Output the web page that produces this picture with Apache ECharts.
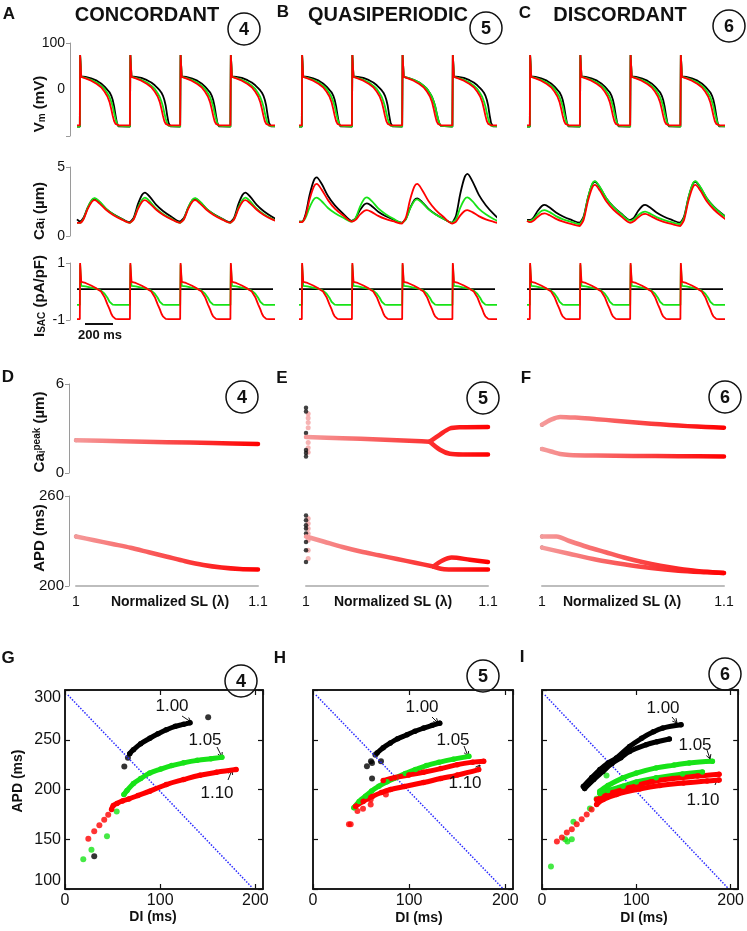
<!DOCTYPE html>
<html>
<head>
<meta charset="utf-8">
<script src="https://cdn.jsdelivr.net/npm/echarts@6/dist/echarts.min.js"></script>
<style>
html, body { margin: 0; padding: 0; background: #fff; }
#chart { width: 747px; height: 931px; }
</style>
</head>
<body>
<div id="chart"></div>
<script>
// ---- time traces (A-C): beat onsets and per-beat time grids, ms ----
const beatStarts = [0, 355, 710, 1065];
const vmT = [0, 2, 10, 40, 80, 120, 150, 175, 195, 210, 222, 232, 242, 252, 262, 272, 285, 354];
const vmRed       = [-77, 74, 27, 24, 19, 12, 5, -5, -15, -27, -42, -56, -68, -74, -76, -77, -77, -77];
const vmGreen     = [-80, 74, 27, 25, 21, 15, 8, 1, -8, -16, -26, -36, -50, -63, -73, -78, -80, -80];
const vmBlack     = [-80, 74, 28, 27, 24, 19, 13, 6, -1, -6, -13, -22, -36, -55, -72, -79, -80, -80];
const vmBlackLong = [-80, 74, 28, 27, 25, 20, 15, 9, 3, -2, -7, -13, -22, -35, -55, -72, -79, -80];

const isacRed   = [-0.97, 1.0, 0.34, 0.3, 0.21, 0.1, 0.0, -0.2, -0.45, -0.62, -0.78, -0.87, -0.93, -0.96, -0.97, -0.97, -0.97, -0.97];
const isacGreen = [-0.47, 0.95, 0.2, 0.18, 0.14, 0.09, 0.03, -0.08, -0.22, -0.36, -0.43, -0.46, -0.47, -0.47, -0.47, -0.47, -0.47, -0.47];
const isacBlack = 0.08;

const caT = [0, 25, 55, 85, 105, 140, 185, 235, 290, 354];
const caA_black = [
    [1.05, 1.3, 2.04, 2.58, 2.7, 2.45, 1.97, 1.6, 1.29, 1.0],
    [1.0, 1.32, 2.29, 2.99, 3.15, 2.83, 2.25, 1.79, 1.41, 1.05],
    [1.05, 1.3, 2.04, 2.58, 2.7, 2.45, 1.97, 1.6, 1.29, 1.0],
    [1.0, 1.32, 2.29, 2.99, 3.15, 2.83, 2.25, 1.79, 1.41, 1.05]]
const caA_green = [
    [0.95, 1.22, 2.03, 2.62, 2.75, 2.48, 1.98, 1.58, 1.26, 0.95],
    [0.95, 1.22, 2.03, 2.62, 2.78, 2.5, 1.98, 1.58, 1.26, 0.95],
    [0.95, 1.22, 2.03, 2.62, 2.75, 2.48, 1.98, 1.58, 1.26, 0.95],
    [0.95, 1.22, 2.03, 2.62, 2.78, 2.5, 1.98, 1.58, 1.26, 0.95]]
const caA_red = [
    [0.95, 1.2, 1.94, 2.48, 2.6, 2.35, 1.9, 1.52, 1.22, 0.95],
    [0.95, 1.2, 1.94, 2.48, 2.6, 2.35, 1.9, 1.52, 1.22, 0.95],
    [0.95, 1.2, 1.94, 2.48, 2.6, 2.35, 1.9, 1.52, 1.22, 0.95],
    [0.95, 1.2, 1.94, 2.48, 2.6, 2.35, 1.9, 1.52, 1.22, 0.95]]
const caB_black = [
    [1.04, 1.52, 2.97, 4.03, 4.25, 3.78, 2.9, 2.2, 1.64, 1.1],
    [1.1, 1.29, 1.86, 2.28, 2.37, 2.16, 1.76, 1.45, 1.2, 0.96],
    [0.96, 1.23, 2.02, 2.61, 2.73, 2.46, 1.97, 1.58, 1.26, 0.96],
    [0.96, 1.49, 3.08, 4.25, 4.5, 3.98, 3.0, 2.23, 1.6, 1.0]]
const caB_green = [
    [1.04, 1.3, 2.08, 2.66, 2.78, 2.52, 2.03, 1.65, 1.34, 1.04],
    [1.04, 1.3, 2.1, 2.68, 2.8, 2.52, 2.0, 1.6, 1.26, 0.95],
    [0.95, 1.21, 1.98, 2.54, 2.66, 2.41, 1.93, 1.56, 1.25, 0.96],
    [0.96, 1.24, 2.06, 2.67, 2.8, 2.52, 1.99, 1.57, 1.23, 0.91]]
const caB_red = [
    [1.0, 1.42, 2.66, 3.58, 3.77, 3.36, 2.6, 1.96, 1.5, 1.04],
    [1.04, 1.17, 1.54, 1.82, 1.88, 1.73, 1.46, 1.24, 1.07, 0.9],
    [0.9, 1.33, 2.62, 3.57, 3.77, 3.34, 2.54, 1.9, 1.39, 0.9],
    [0.9, 1.05, 1.49, 1.81, 1.88, 1.73, 1.44, 1.21, 1.03, 0.85]]
const caC_black = [
    [1.16, 1.32, 1.81, 2.17, 2.25, 2.06, 1.7, 1.41, 1.18, 0.96],
    [0.96, 1.41, 2.74, 3.72, 3.93, 3.51, 2.74, 2.13, 1.63, 1.16],
    [1.16, 1.32, 1.81, 2.17, 2.25, 2.06, 1.7, 1.41, 1.18, 0.96],
    [0.96, 1.41, 2.74, 3.72, 3.93, 3.51, 2.74, 2.13, 1.63, 1.16]]
const caC_green = [
    [1.1, 1.22, 1.57, 1.83, 1.88, 1.73, 1.44, 1.21, 1.03, 0.85],
    [0.85, 1.32, 2.73, 3.76, 3.98, 3.55, 2.74, 2.11, 1.59, 1.1],
    [1.1, 1.2, 1.5, 1.71, 1.76, 1.62, 1.37, 1.17, 1.0, 0.85],
    [0.85, 1.32, 2.73, 3.76, 3.98, 3.55, 2.74, 2.11, 1.59, 1.1]]
const caC_red = [
    [1.0, 1.1, 1.38, 1.6, 1.64, 1.5, 1.24, 1.04, 0.88, 0.72],
    [0.72, 1.17, 2.51, 3.49, 3.7, 3.29, 2.52, 1.92, 1.43, 0.96],
    [0.96, 1.06, 1.34, 1.56, 1.6, 1.47, 1.22, 1.03, 0.87, 0.72],
    [0.72, 1.17, 2.51, 3.49, 3.7, 3.29, 2.52, 1.92, 1.43, 0.96]]

// ---- bifurcation (D-F): [lambda, value] ----
const capD = [[1, 2.2], [1.025, 2.14], [1.05, 2.08], [1.075, 2.02], [1.1, 1.96]]
const apdD = [[1, 233], [1.01, 230.5], [1.02, 228], [1.03, 225.5], [1.04, 222.5], [1.05, 219.5], [1.06, 216.5], [1.07, 214], [1.08, 212.3], [1.09, 211.3], [1.1, 211]]
const capE = [[1, 2.42], [1.02, 2.34], [1.04, 2.26], [1.06, 2.16], [1.068, 2.11]]
const capEUp = [[1.068, 2.11], [1.0736, 2.59], [1.079, 3.0], [1.085, 3.08], [1.1, 3.1]]
const capELow = [[1.068, 2.11], [1.0736, 1.57], [1.079, 1.3], [1.088, 1.25], [1.1, 1.24]]
const apdE = [[1, 233], [1.01, 229.5], [1.02, 226], [1.03, 223], [1.04, 220.5], [1.05, 218], [1.06, 215.5], [1.07, 213]]
const apdEUp = [[1.07, 213], [1.075, 217], [1.08, 219], [1.09, 217.5], [1.1, 216]]
const apdELow = [[1.07, 213], [1.075, 211.3], [1.08, 211], [1.1, 211]]
const capEDotsK = [[1, 4.4], [1, 4.15], [1, 2.7], [1, 1.55], [1, 1.35], [1, 1.12]]
const capEDotsP = [[1.0012, 4.0], [1.0012, 3.7], [1.0012, 3.4], [1.0012, 3.05], [1.0012, 2.05], [1.0012, 1.7], [1.0012, 1.4]]
const apdEDotsK = [[1, 247], [1, 243.8], [1, 240.5], [1, 238.4], [1, 235], [1, 229.3], [1, 223.8], [1, 216]]
const apdEDotsP = [[1.0012, 245], [1.0012, 241.6], [1.0012, 238.3], [1.0012, 235], [1.0012, 230.5], [1.0012, 223.8], [1.0012, 218.3]]
const capFUp = [[1, 3.26], [1.005, 3.6], [1.01, 3.78], [1.02, 3.72], [1.03, 3.63], [1.04, 3.53], [1.05, 3.42], [1.06, 3.32], [1.07, 3.24], [1.08, 3.16], [1.09, 3.1], [1.1, 3.05]]
const capFLow = [[1, 1.62], [1.005, 1.45], [1.01, 1.28], [1.015, 1.22], [1.03, 1.18], [1.05, 1.15], [1.075, 1.13], [1.1, 1.12]]
const apdFUp = [[1, 233], [1.008, 233], [1.015, 230], [1.025, 226], [1.035, 222.5], [1.045, 219], [1.055, 216], [1.065, 213.5], [1.075, 211.5], [1.085, 210], [1.1, 208.7]]
const apdFLow = [[1, 225.6], [1.015, 221.5], [1.03, 217.5], [1.045, 214.5], [1.06, 212], [1.075, 210.2], [1.09, 209.2], [1.1, 208.7]]

// ---- restitution (G-I): [DI, APD] ms ----
const bclLine = [[3, 295], [197, 101]]
const resG_kDots = [[30.7, 133], [62.3, 223], [66.1, 232], [150.4, 272.5]]
const resG_k = [[68, 236], [71.9, 240], [79.5, 246], [89.1, 251.5], [97.7, 256], [106.4, 260], [115.9, 263.5], [124.6, 265.5], [131.3, 267]]
const resG_gDots = [[19.2, 130], [27.8, 139.5], [44.1, 153], [54.3, 178]]
const resG_g = [[61.9, 195], [65.2, 199], [71.9, 206], [79.5, 211], [89.1, 216.5], [100.6, 220.5], [112.1, 224], [124.6, 226.8], [138.9, 229.3], [153.3, 231], [164.8, 232.3]]
const resG_rDots = [[24.5, 150.6], [30.7, 158], [36.1, 164], [41.2, 169.6], [45.4, 174.7]]
const resG_r = [[48.9, 180], [50.8, 184], [54.6, 186], [60.4, 188.5], [67.1, 190.5], [76.7, 194], [89.1, 198.3], [106.4, 205], [124.6, 210], [141.8, 214.3], [159.1, 217.3], [179.7, 220]]

const resH_kDots = [[56.1, 223.3], [60.3, 228.3], [61.4, 226.7], [64.9, 235], [61.4, 211], [70.7, 228.3]]
const resH_k = [[66.6, 236.7], [73, 242], [80.4, 246.7], [88, 251], [97.8, 255], [106, 258.5], [115.1, 261.7], [124, 264.5], [131.8, 266.7]]
const resH_g = [[42.5, 181.7], [48, 188], [54.6, 193.3], [61, 198.5], [68.5, 203.3], [77, 207.8], [85.8, 211.7], [96, 216], [106.6, 220], [118, 224], [130.9, 227.3], [146, 230.5], [162.1, 233.3]]
const resH_rDots = [[37.4, 165], [39.2, 165], [46.2, 178.3], [52, 180.7], [60, 185], [60, 190], [75.8, 195]]
const resH_rLow = [[44.2, 183], [52.2, 188], [61.7, 193], [71.2, 197], [80.7, 200], [95, 203], [114.9, 207], [132.9, 211], [150, 214.5], [172.3, 220]]
const resH_rUp = [[73.1, 209], [85.5, 212], [99.7, 214.5], [114.9, 217.3], [132.9, 221], [150, 225], [166.1, 227.5], [177.5, 228.5]]

const resI_k1 = [[43.8, 203], [52.8, 212], [61.4, 220], [70, 226.5], [78.9, 231.7], [92.9, 243.3], [105.6, 251.5], [118.1, 258], [128, 261.7], [147.4, 265]]
const resI_k2 = [[45.2, 201], [54.8, 210], [64.4, 218], [74, 226], [83.6, 232], [92.9, 238.3], [110.5, 245], [122, 248], [135, 250.7]]
const resI_gDots = [[9.5, 122.7], [24.5, 150], [27, 147.7], [31.6, 150], [33.3, 167.7], [50.8, 181], [57.9, 190.7], [68.4, 214]]
const resI_gUp = [[61.3, 198.3], [70, 204], [85.9, 211.7], [100, 216.5], [121, 221.7], [140, 224.5], [156, 226.7], [180.6, 228.3]]
const resI_gLow = [[61.3, 196], [70, 199], [85.9, 203.3], [100, 207.5], [121, 211.7], [149, 215.7], [170, 217.7]]
const resI_rDots = [[15.8, 147.7], [21.1, 151.7], [26.3, 156.7], [31.6, 160], [36.8, 165], [42.1, 170], [47.4, 175], [52.6, 180]]
const resI_rUp = [[57.9, 190], [75, 197], [93, 202], [115, 207.5], [138.6, 211], [165, 213.5], [187.7, 215.3]]
const resI_rLow = [[57.9, 185], [64.9, 190], [78.9, 195], [103.5, 200.5], [125, 204], [150, 206.5], [175, 208.5], [187.7, 209.5]]

const FONT = '"Liberation Sans", Arial, Helvetica, sans-serif'
const K = '#000000', G = '#17e317', R = '#ff0000'

let grids = [], xAxes = [], yAxes = [], series = []
let bifSeries = []

function addGrid(g, xa, ya) {
    let gi = grids.length
    grids.push(g)
    let xi = xAxes.length
    xAxes.push(Object.assign({ gridIndex: gi }, xa))
    let yi = yAxes.length
    yAxes.push(Object.assign({ gridIndex: gi }, ya))
    return { xi, yi, gi }
}

// join typed beats onto the time axis
function beats(times, list, lead) {
    let pts = [[-20, lead]]
    list.forEach((vals, k) => {
        vals.forEach((v, i) => pts.push([beatStarts[k] + times[i], v]))
    })
    return pts
}

function line(ax, data, color, width, smooth) {
    series.push({
        type: 'line', xAxisIndex: ax.xi, yAxisIndex: ax.yi, data: data,
        symbol: 'none', smooth: smooth || false, silent: true,
        lineStyle: { color: color, width: width }
    })
}

const grayAxis = { show: true, onZero: false, lineStyle: { color: '#9a9a9a', width: 1 } }
function sideY(min, max, interval, extra) {
    return Object.assign({
        type: 'value', min, max, interval, offset: 7,
        axisLine: grayAxis,
        axisTick: { show: true, length: 4, lineStyle: { color: '#9a9a9a' } },
        axisLabel: { fontSize: 14, color: '#111', margin: 5, fontFamily: FONT },
        splitLine: { show: false }
    }, extra || {})
}
const hidden = (min, max) => ({ type: 'value', min, max, show: false })

// ---- rows A-C ----
const colLeft = [77, 299, 527]
const vmSets = [
    [[vmBlack, vmBlackLong, vmBlack, vmBlackLong], [vmGreen, vmGreen, vmGreen, vmGreen], [vmRed, vmRed, vmRed, vmRed]],
    [[vmBlack, vmBlackLong, vmGreen, vmBlackLong], [vmGreen, vmGreen, vmGreen, vmGreen], [vmRed, vmRed, vmRed, vmRed]],
    [[vmBlack, vmBlack, vmBlack, vmBlack], [vmGreen, vmGreen, vmGreen, vmGreen], [vmRed, vmRed, vmRed, vmRed]]
]
const caSets = [[caA_black, caA_green, caA_red], [caB_black, caB_green, caB_red], [caC_black, caC_green, caC_red]]
const caLead = [[1.2, 0.95, 0.95], [1.04, 1.04, 1.0], [1.16, 1.12, 1.1]]

colLeft.forEach((left, c) => {
    let first = c === 0
    let vm = addGrid({ left, top: 43, width: 196, height: 93 }, hidden(-20, 1365),
        first ? sideY(-100, 100, 100, {
            axisTick: { show: true, length: 4, customValues: [-100, 100], lineStyle: { color: '#9a9a9a' } },
            axisLabel: { fontSize: 14, color: '#111', margin: 5, fontFamily: FONT, customValues: [0, 100],
                formatter: v => v === -100 ? '' : String(v) }
        }) : hidden(-100, 100))
    let ca = addGrid({ left, top: 167, width: 196, height: 69 }, hidden(-20, 1365),
        first ? sideY(0, 5, 5) : hidden(0, 5))
    let sac = addGrid({ left, top: 263, width: 196, height: 57 }, hidden(-20, 1365),
        first ? sideY(-1, 1, 2) : hidden(-1, 1))
    let cols = [K, G, R]
    vmSets[c].forEach((set, j) => line(vm, beats(vmT, set, set[0][0]), cols[j], 1.8))
    caSets[c].forEach((set, j) => line(ca, beats(caT, set, caLead[c][j]), cols[j], 1.8, 0.3))
    line(sac, [[-20, isacBlack], [1365, isacBlack]], K, 1.8)
    line(sac, beats(vmT, [isacGreen, isacGreen, isacGreen, isacGreen], -0.47), G, 1.8)
    line(sac, beats(vmT, [isacRed, isacRed, isacRed, isacRed], -0.97), R, 1.8)
})

// ---- rows D-F ----
const bifLeft = [76, 306, 542]
function bifX() {
    return {
        type: 'value', min: 1, max: 1.1, interval: 0.1,
        axisLine: { show: true, onZero: false, lineStyle: { color: '#bdbdbd', width: 2 } },
        axisTick: { show: false }, splitLine: { show: false },
        axisLabel: { fontSize: 14, color: '#111', margin: 9, fontFamily: FONT, formatter: v => v < 1.05 ? '1' : '1.1' }
    }
}
function bifLine(ax, data) {
    bifSeries.push(series.length)
    series.push({
        type: 'line', xAxisIndex: ax.xi, yAxisIndex: ax.yi, data: data, symbol: 'none',
        smooth: 0.3, clip: false, silent: true,
        lineStyle: { width: 4.5, cap: 'round', join: 'round' }
    })
}
function dots(ax, data, color, size) {
    series.push({
        type: 'scatter', xAxisIndex: ax.xi, yAxisIndex: ax.yi, data: data, clip: false,
        symbolSize: size, itemStyle: { color: color }, silent: true
    })
}
const capSets = [[capD], [capE, capEUp, capELow], [capFUp, capFLow]]
const apdSets = [[apdD], [apdE, apdEUp, apdELow], [apdFUp, apdFLow]]
bifLeft.forEach((left, c) => {
    let first = c === 0
    let cp = addGrid({ left, top: 384, width: 182, height: 89 }, hidden(1, 1.1),
        first ? sideY(0, 6, 6, { axisLabel: { fontSize: 15, color: '#111', margin: 5, fontFamily: FONT } }) : hidden(0, 6))
    let ap = addGrid({ left, top: 496, width: 182, height: 90 }, bifX(),
        first ? sideY(200, 260, 60, { axisLabel: { fontSize: 15, color: '#111', margin: 5, fontFamily: FONT } }) : hidden(200, 260))
    capSets[c].forEach(d => bifLine(cp, d))
    apdSets[c].forEach(d => bifLine(ap, d))
    if (c === 0) {
        dots(cp, [capD[0]], '#111', 4)
        dots(ap, [apdD[0]], '#111', 4)
    } else if (c === 1) {
        dots(cp, capEDotsP, '#f4a0a0', 5)
        dots(cp, capEDotsK, '#111', 4.5)
        dots(ap, apdEDotsP, '#f4a0a0', 5)
        dots(ap, apdEDotsK, '#111', 4.5)
    } else {
        dots(cp, [capFUp[0], capFLow[0]], '#111', 4)
        dots(ap, [apdFUp[0], apdFLow[0]], '#111', 4)
    }
})

// ---- rows G-I ----
const resLeft = [65, 313, 542]
const resWidth = [198, 200, 197]
function resAxes(c) {
    let gi = grids.length
    grids.push({ left: resLeft[c], top: 690, width: resWidth[c], height: 199, show: true, borderColor: '#111', borderWidth: 1.5 })
    let blackLine = { show: true, onZero: false, lineStyle: { color: '#111', width: 1.5 } }
    let tick = { show: true, inside: true, length: 5, lineStyle: { color: '#111', width: 1.2 } }
    let xi = xAxes.length
    xAxes.push({
        gridIndex: gi, type: 'value', min: 0, max: 208, interval: 100, position: 'bottom',
        axisLine: blackLine, axisTick: tick, splitLine: { show: false },
        axisLabel: { fontSize: 16, color: '#111', margin: 4, fontFamily: FONT, showMaxLabel: false }
    })
    xAxes.push({
        gridIndex: gi, type: 'value', min: 0, max: 208, interval: 100, position: 'top',
        axisLine: blackLine, axisTick: tick, splitLine: { show: false }, axisLabel: { show: false }
    })
    let yi = yAxes.length
    yAxes.push({
        gridIndex: gi, type: 'value', min: 100, max: 300, interval: 50, position: 'left',
        axisLine: blackLine, axisTick: tick, splitLine: { show: false },
        axisLabel: c === 0 ? {
            fontSize: 16, color: '#111', margin: 4, fontFamily: FONT,
            verticalAlignMinLabel: 'bottom', verticalAlignMaxLabel: 'top'
        } : { show: false }
    })
    yAxes.push({
        gridIndex: gi, type: 'value', min: 100, max: 300, interval: 50, position: 'right',
        axisLine: blackLine, axisTick: tick, splitLine: { show: false }, axisLabel: { show: false }
    })
    return { xi, yi, gi }
}
function resCurve(ax, data, color) {
    series.push({
        type: 'line', xAxisIndex: ax.xi, yAxisIndex: ax.yi, data: data, smooth: 0.4,
        symbol: 'circle', symbolSize: 5.5, showSymbol: true, silent: true,
        itemStyle: { color: color }, lineStyle: { color: color, width: 5, cap: 'round' }
    })
}
const resData = [
    { k: [resG_k], kd: resG_kDots, g: [resG_g], gd: resG_gDots, r: [resG_r], rd: resG_rDots },
    { k: [resH_k], kd: resH_kDots, g: [resH_g], gd: [], r: [resH_rLow, resH_rUp], rd: resH_rDots },
    { k: [resI_k1, resI_k2], kd: [], g: [resI_gUp, resI_gLow], gd: resI_gDots, r: [resI_rUp, resI_rLow], rd: resI_rDots }
]
resData.forEach((d, c) => {
    let ax = resAxes(c)
    series.push({
        type: 'line', xAxisIndex: ax.xi, yAxisIndex: ax.yi, data: bclLine, symbol: 'none', silent: true,
        lineStyle: { color: '#2b2bff', width: 1.5, type: 'dotted' }
    })
    d.k.forEach(s => resCurve(ax, s, K))
    dots(ax, d.kd, K, 6)
    d.g.forEach(s => resCurve(ax, s, G))
    dots(ax, d.gd, G, 6)
    d.r.forEach(s => resCurve(ax, s, R))
    dots(ax, d.rd, R, 6)
})

// ---- annotations ----
function txt(x, y, text, size, bold, extra) {
    return Object.assign({
        type: 'text', x, y, z: 50,
        style: { text, fontSize: size, fontWeight: bold ? 'bold' : 'normal', fontFamily: FONT, fill: '#111', align: 'center', verticalAlign: 'middle' }
    }, extra || {})
}
function vtxt(x, y, text, rich) {
    return {
        type: 'text', x, y, rotation: Math.PI / 2, z: 50,
        style: { text, rich, fontFamily: FONT, fill: '#111', align: 'center', verticalAlign: 'middle' }
    }
}
function badge(cx, cy, n) {
    return {
        type: 'group', z: 60, children: [
            { type: 'circle', shape: { cx, cy, r: 16 }, style: { fill: '#fff', stroke: '#111', lineWidth: 1.5 } },
            { type: 'text', x: cx, y: cy + 1, style: { text: n, fontSize: 18, fontWeight: 'bold', fontFamily: FONT, fill: '#111', align: 'center', verticalAlign: 'middle' } }
        ]
    }
}
function arrow(x1, y1, x2, y2) {
    let a = Math.atan2(y2 - y1, x2 - x1), h = 5
    return {
        type: 'group', z: 50, children: [
            { type: 'line', shape: { x1, y1, x2, y2 }, style: { stroke: '#111', lineWidth: 1 } },
            { type: 'polyline', shape: { points: [[x2 - h * Math.cos(a - 0.5), y2 - h * Math.sin(a - 0.5)], [x2, y2], [x2 - h * Math.cos(a + 0.5), y2 - h * Math.sin(a + 0.5)]] }, style: { stroke: '#111', lineWidth: 1, fill: null } }
        ]
    }
}
const B = { fontSize: 15, fontWeight: 'bold', fontFamily: FONT, fill: '#111', verticalAlign: 'middle' }
const SUB = { fontSize: 10, fontWeight: 'bold', fontFamily: FONT, fill: '#111', verticalAlign: 'bottom' }
const SUP = { fontSize: 10, fontWeight: 'bold', fontFamily: FONT, fill: '#111', verticalAlign: 'top' }
const rich = { b: B, s: SUB, p: SUP }

let graphics = [
    txt(9, 14, 'A', 17, true), txt(283, 12, 'B', 17, true), txt(525, 13, 'C', 17, true),
    txt(147, 15, 'CONCORDANT', 20, true), txt(388, 15, 'QUASIPERIODIC', 20, true), txt(620, 15, 'DISCORDANT', 20, true),
    badge(244, 29, '4'), badge(486, 28, '5'), badge(729, 26, '6'),
    vtxt(40, 104, '{b|V}{s|m}{b| (mV)}', rich),
    vtxt(40, 211, '{b|Ca}{s|i}{b| (µm)}', rich),
    vtxt(40, 296, '{b|I}{s|SAC}{b| (pA/pF)}', rich),
    { type: 'line', z: 50, shape: { x1: 85, y1: 324, x2: 113, y2: 324 }, style: { stroke: '#111', lineWidth: 2 } },
    txt(100, 335, '200 ms', 13, true),
    txt(8, 377, 'D', 17, true), txt(282, 378, 'E', 17, true), txt(526, 378, 'F', 17, true),
    badge(242, 397, '4'), badge(483, 398, '5'), badge(725, 397, '6'),
    vtxt(40, 432, '{b|Ca}{s|i}{p|peak}{b| (µm)}', rich),
    vtxt(40, 538, '{b|APD (ms)}', rich),
    txt(170, 602, 'Normalized SL (λ)', 14, true), txt(393, 602, 'Normalized SL (λ)', 14, true), txt(622, 602, 'Normalized SL (λ)', 14, true),
    txt(8, 658, 'G', 17, true), txt(280, 658, 'H', 17, true), txt(522, 657, 'I', 17, true),
    badge(241, 681, '4'), badge(483, 676, '5'), badge(725, 674, '6'),
    vtxt(18, 781, '{b|APD (ms)}', { b: Object.assign({}, B, { fontSize: 14 }) }),
    txt(153, 917, 'DI (ms)', 14, true), txt(419, 918, 'DI (ms)', 14, true), txt(644, 918, 'DI (ms)', 14, true),
    txt(172, 706, '1.00', 17, false), arrow(182, 716, 191, 722),
    txt(205, 740, '1.05', 17, false), arrow(217, 747, 222, 757),
    txt(217, 793, '1.10', 17, false), arrow(228, 780, 232, 770),
    txt(422, 707, '1.00', 17, false), arrow(432, 717, 438, 723),
    txt(453, 740, '1.05', 17, false), arrow(464, 746, 468, 756),
    txt(465, 783, '1.10', 17, false), arrow(475, 772, 480, 765),
    txt(663, 708, '1.00', 17, false), arrow(672, 717, 677, 723),
    txt(695, 745, '1.05', 17, false), arrow(707, 750, 710, 759),
    txt(703, 800, '1.10', 17, false), arrow(715, 785, 718, 778)
]

let myChart = echarts.init(document.getElementById('chart'), null, { renderer: 'canvas' })
myChart.setOption({
    animation: false,
    backgroundColor: '#fff',
    textStyle: { fontFamily: FONT },
    grid: grids,
    xAxis: xAxes,
    yAxis: yAxes,
    visualMap: [{
        type: 'continuous', show: false, dimension: 0, min: 1, max: 1.1,
        seriesIndex: bifSeries, inRange: { color: ['#f59a9a', '#ff0000'] }
    }],
    series: series,
    graphic: graphics
})
</script>
</body>
</html>
